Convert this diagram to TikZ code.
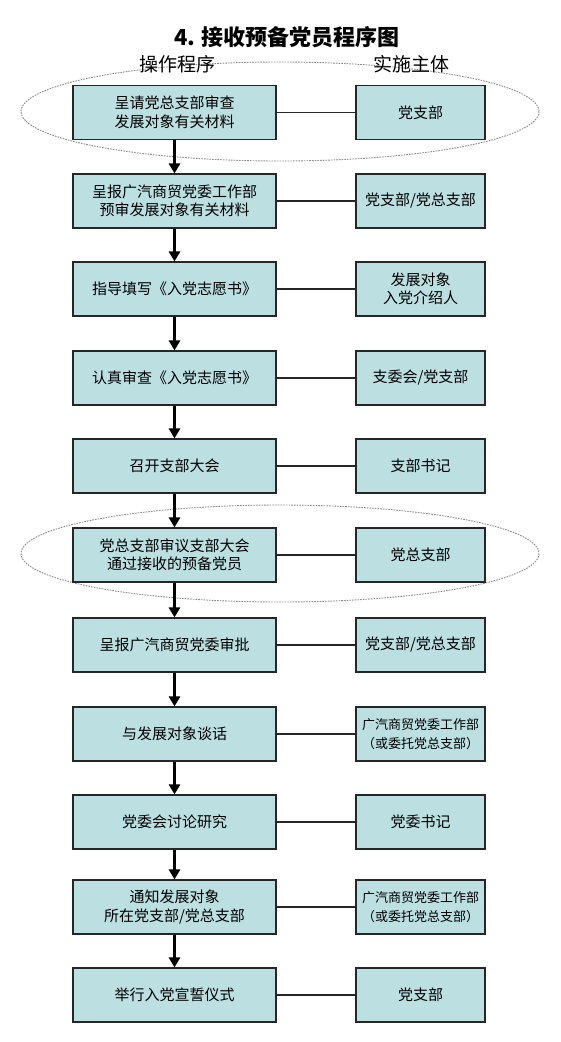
\documentclass[tikz,border=0pt]{standalone}
\usepackage{fontspec}
\setmainfont{Noto Sans CJK SC}
\usetikzlibrary{arrows.meta}
\definecolor{StepFill}{HTML}{BCDFE2}
\definecolor{StepLine}{HTML}{262626}
\definecolor{RingGray}{HTML}{8A8A8A}

\begin{document}
\begin{tikzpicture}[x=1pt,y=-1pt,
  stepbox/.style={draw=StepLine,line width=1.1pt,fill=StepFill,minimum width=203pt,minimum height=54pt,align=center,inner sep=0pt,font=\fontsize{15}{18.5}\selectfont},
  whobox/.style={stepbox,minimum width=129pt},
  flow/.style={-{Triangle[width=11pt,length=10pt]},line width=3pt},
  link/.style={draw=StepLine,line width=1.1pt},
  ring/.style={draw=RingGray,line width=0.9pt,dash pattern=on 1.6pt off 1.1pt}]
  \useasboundingbox (0,0) rectangle (560,1042);
  \draw[ring] (280,111.5) ellipse [x radius=259, y radius=49.5];
  \draw[ring] (280,553.5) ellipse [x radius=259, y radius=48.5];
  \node (title) at (287,37) {\fontsize{22}{24}\selectfont\bfseries 4. 接收预备党员程序图};
  \node (headL) at (177,64) {\fontsize{19}{22}\selectfont 操作程序};
  \node (headR) at (411,64) {\fontsize{19}{22}\selectfont 实施主体};
  \foreach \i/\y/\task/\who/\sz in {
    1/112.5/{呈请党总支部审查\\发展对象有关材料}/{党支部}/15,
    2/201/{呈报广汽商贸党委工作部\\预审发展对象有关材料}/{党支部/党总支部}/15,
    3/289/{指导填写《入党志愿书》}/{发展对象\\入党介绍人}/15,
    4/378/{认真审查《入党志愿书》}/{支委会/党支部}/15,
    5/466/{召开支部大会}/{支部书记}/15,
    6/555/{党总支部审议支部大会\\通过接收的预备党员}/{党总支部}/15,
    7/645/{呈报广汽商贸党委审批}/{党支部/党总支部}/15,
    8/734/{与发展对象谈话}/{广汽商贸党委工作部\\（或委托党总支部）}/13,
    9/822/{党委会讨论研究}/{党委书记}/15,
    10/907/{通知发展对象\\所在党支部/党总支部}/{广汽商贸党委工作部\\（或委托党总支部）}/13,
    11/995/{举行入党宣誓仪式}/{党支部}/15}
  {
    \node[stepbox] (L\i) at (174.5,\y) {\task};
    \node[whobox,font=\fontsize{\sz}{18.5}\selectfont] (R\i) at (420.5,\y) {\who};
    \draw[link] (L\i) -- (R\i);
  }
  \foreach \i [evaluate=\i as \j using int(\i+1)] in {1,...,10}
    \draw[flow] (L\i) -- (L\j);
\end{tikzpicture}
\end{document}
